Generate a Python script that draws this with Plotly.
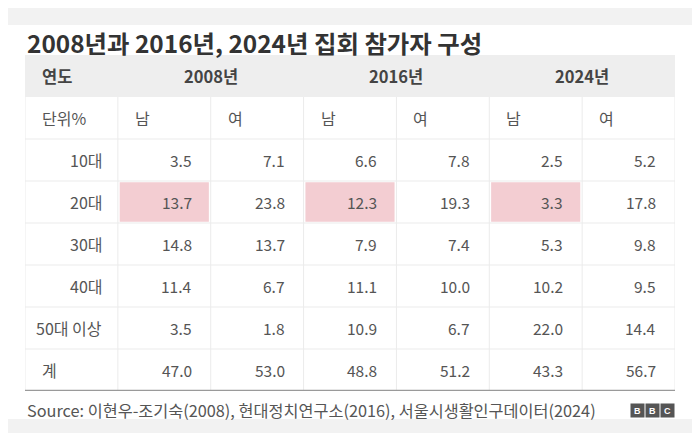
import plotly.graph_objects as go

# 연령대별 집회 참가자 구성 (단위 %)
ages = ["10대", "20대", "30대", "40대", "50대 이상", "계"]
years = ["2008년", "2016년", "2024년"]
sexes = ["남", "여"]

male_2008 = [3.5, 13.7, 14.8, 11.4, 3.5, 47.0]
female_2008 = [7.1, 23.8, 13.7, 6.7, 1.8, 53.0]
male_2016 = [6.6, 12.3, 7.9, 11.1, 10.9, 48.8]
female_2016 = [7.8, 19.3, 7.4, 10.0, 6.7, 51.2]
male_2024 = [2.5, 3.3, 5.3, 10.2, 22.0, 43.3]
female_2024 = [5.2, 17.8, 9.8, 9.5, 14.4, 56.7]

highlight_age = "20대"
highlight_sex = "남"

title = "2008년과 2016년, 2024년 집회 참가자 구성"
source = "Source: 이현우-조기숙(2008), 현대정치연구소(2016), 서울시생활인구데이터(2024)"

FONT = "Noto Sans CJK KR"
TXT = "#555555"
HEAD_BG = "#eeeeee"
GRID = "#ebebeb"
PINK = "#f3cdd2"

columns = [male_2008, female_2008, male_2016, female_2016, male_2024, female_2024]
col_sex = sexes * len(years)
ncols = 1 + len(columns)
nrows = 2 + len(ages)

# page body has an 8px margin, so the figure is a bit smaller than the window
W, H = 692, 425
ML, MR, MT, MB = 17, 25, 47, 42
PH = H - MT - MB

fig = go.Figure()
# invisible trace just to hold the axes
fig.add_trace(go.Scatter(x=[0, ncols], y=[0, nrows], mode="markers",
                         marker=dict(opacity=0), hoverinfo="skip", showlegend=False))

shapes = []
ann = []

# header background
shapes.append(dict(type="rect", xref="x", yref="y", x0=0, x1=ncols, y0=0, y1=1,
                   fillcolor=HEAD_BG, line=dict(width=0), layer="below"))

# highlighted cells
for r, age in enumerate(ages):
    for c, sx in enumerate(col_sex):
        if age == highlight_age and sx == highlight_sex:
            shapes.append(dict(type="rect", xref="x", yref="y",
                               x0=c + 1 + 0.02, x1=c + 2 - 0.02,
                               y0=r + 2 + 0.03, y1=r + 3 - 0.03,
                               fillcolor=PINK, line=dict(width=0), layer="below"))

# grid lines
for r in range(2, nrows):
    shapes.append(dict(type="line", xref="x", yref="y", x0=0, x1=ncols, y0=r, y1=r,
                       line=dict(color=GRID, width=1), layer="below"))
for c in range(0, ncols + 1):
    shapes.append(dict(type="line", xref="x", yref="y", x0=c, x1=c, y0=1, y1=nrows,
                       line=dict(color=GRID, width=1), layer="below"))
# bottom rule
shapes.append(dict(type="line", xref="x", yref="y", x0=0, x1=ncols, y0=nrows, y1=nrows,
                   line=dict(color="#9a9a9a", width=2.5)))

# top / bottom grey bands of the page
shapes.append(dict(type="rect", xref="paper", yref="paper", x0=-0.05, x1=1.05,
                   y0=1 + (MT - 17) / PH, y1=1 + MT / PH, fillcolor="#f2f2f2",
                   line=dict(width=0), layer="below"))
shapes.append(dict(type="rect", xref="paper", yref="paper", x0=-0.05, x1=1.05,
                   y0=-MB / PH, y1=-28 / PH, fillcolor="#f2f2f2",
                   line=dict(width=0), layer="below"))


def text(x, y, s, anchor="left", shift=0, bold=False, size=16, color=TXT):
    ann.append(dict(x=x, y=y, xref="x", yref="y", text=f"<b>{s}</b>" if bold else s,
                    showarrow=False, xanchor=anchor, yanchor="middle", xshift=shift,
                    font=dict(family=FONT, size=size, color=color)))


# header row
text(0, 0.5, "연도", "left", 15, bold=True, size=16.5, color="#444444")
for i, yr in enumerate(years):
    text(1 + 2 * i + 1, 0.5, yr, "center", 0, bold=True, size=16.5, color="#444444")

# sub header
text(0, 1.5, "단위%", "left", 15)
for c, sx in enumerate(col_sex):
    text(c + 1, 1.5, sx, "left", 15)

# body
for r, age in enumerate(ages):
    y = r + 2.5
    if age == "계":
        text(0, y, age, "left", 15)
    else:
        text(1, y, age, "right", -14)
    for c, vals in enumerate(columns):
        text(c + 2, y, f"{vals[r]:.1f}", "right", -17, size=15.5)

# title and source
ann.append(dict(x=0, y=1, xref="paper", yref="paper", text=f"<b>{title}</b>",
                showarrow=False, xanchor="left", yanchor="middle", yshift=13,
                font=dict(family=FONT, size=24.4, color="#333333")))
ann.append(dict(x=0, y=0, xref="paper", yref="paper", text=source,
                showarrow=False, xanchor="left", yanchor="middle", yshift=-19,
                font=dict(family=FONT, size=16.3, color=TXT)))

# BBC blocks
for k, letter in enumerate("BBC"):
    ann.append(dict(x=1, y=0, xref="paper", yref="paper", text=f"<b>{letter}</b>",
                    showarrow=False, xanchor="right", yanchor="middle",
                    xshift=-(2 - k) * 15, yshift=-19, bgcolor="#555555",
                    width=13, height=13, borderpad=0,
                    font=dict(family="Liberation Sans", size=9, color="white")))

fig.update_layout(
    width=W, height=H,
    margin=dict(l=ML, r=MR, t=MT, b=MB),
    paper_bgcolor="white", plot_bgcolor="white",
    xaxis=dict(range=[0, ncols], visible=False, fixedrange=True),
    yaxis=dict(range=[nrows, 0], visible=False, fixedrange=True),
    shapes=shapes, annotations=ann, showlegend=False,
)

fig.write_html("out.html")
